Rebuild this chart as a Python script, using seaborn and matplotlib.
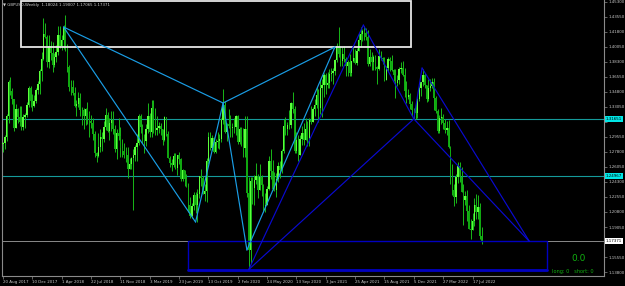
import matplotlib
matplotlib.use("Agg")
import numpy as np
import pandas as pd
import matplotlib.pyplot as plt
import matplotlib.transforms as mtransforms
from matplotlib.patches import Rectangle
import seaborn as sns

# ---------------- data (GBPUSD weekly, week starting 20 Aug 2017) ----------------
first_open = 1.2875
closes = [
    1.2880, 1.2950, 1.3200, 1.3590, 1.3495, 1.3395, 1.3065, 1.3285, 1.3190, 1.3135,
    1.3075, 1.3190, 1.3215, 1.3330, 1.3520, 1.3375, 1.3320, 1.3375, 1.3500, 1.3570,
    1.3725, 1.3860, 1.4150, 1.4125, 1.3825, 1.4020, 1.3935, 1.3795, 1.3890, 1.3950,
    1.4140, 1.4010, 1.4080, 1.4240, 1.4010, 1.3775, 1.3535, 1.3540, 1.3465, 1.3315,
    1.3345, 1.3410, 1.3265, 1.3265, 1.3205, 1.3280, 1.3240, 1.3145, 1.3115, 1.2995,
    1.2765, 1.2730, 1.2840, 1.2960, 1.2930, 1.3070, 1.3210, 1.3030, 1.3120, 1.3150,
    1.3045, 1.2815, 1.3000, 1.2970, 1.2830, 1.2795, 1.2750, 1.2740, 1.2585, 1.2640,
    1.2715, 1.2745, 1.2840, 1.2880, 1.3195, 1.3075, 1.2940, 1.2905, 1.3045, 1.3195,
    1.3010, 1.3295, 1.3210, 1.3035, 1.3065, 1.3085, 1.3045, 1.2915, 1.3190, 1.2995,
    1.2715, 1.2655, 1.2625, 1.2735, 1.2590, 1.2740, 1.2695, 1.2465, 1.2575, 1.2470,
    1.2375, 1.2160, 1.2030, 1.2150, 1.2275, 1.2160, 1.2290, 1.2495, 1.2475, 1.2290,
    1.2330, 1.2670, 1.2960, 1.2830, 1.2940, 1.2780, 1.2895, 1.2905, 1.2935, 1.3150,
    1.3330, 1.3015, 1.3110, 1.3080, 1.3060, 1.3070, 1.3075, 1.3200, 1.2895, 1.3045,
    1.2960, 1.2825, 1.3050, 1.2300, 1.1640, 1.2445, 1.2365, 1.2450, 1.2505, 1.2335,
    1.2490, 1.2400, 1.2135, 1.2165, 1.2345, 1.2670, 1.2560, 1.2350, 1.2335, 1.2470,
    1.2615, 1.2565, 1.2790, 1.3085, 1.3050, 1.3090, 1.3090, 1.3350, 1.3280, 1.2790,
    1.2915, 1.2745, 1.2935, 1.3000, 1.2915, 1.3045, 1.2945, 1.3150, 1.3130, 1.3280,
    1.3325, 1.3440, 1.3290, 1.3520, 1.3555, 1.3675, 1.3565, 1.3580, 1.3685, 1.3705,
    1.3725, 1.3850, 1.4010, 1.3925, 1.3835, 1.3925, 1.3865, 1.3785, 1.3830, 1.3700,
    1.3840, 1.3875, 1.3815, 1.3960, 1.4085, 1.4150, 1.4185, 1.4165, 1.4115, 1.3805,
    1.3885, 1.3825, 1.3890, 1.3765, 1.3745, 1.3900, 1.3880, 1.3865, 1.3620, 1.3760,
    1.3865, 1.3835, 1.3735, 1.3675, 1.3585, 1.3615, 1.3745, 1.3755, 1.3680, 1.3495,
    1.3420, 1.3440, 1.3335, 1.3270, 1.3265, 1.3235, 1.3395, 1.3530, 1.3590, 1.3675,
    1.3555, 1.3395, 1.3530, 1.3550, 1.3590, 1.3405, 1.3260, 1.3030, 1.3180, 1.3185,
    1.3115, 1.3035, 1.3060, 1.2835, 1.2570, 1.2335, 1.2255, 1.2490, 1.2620, 1.2490,
    1.2310, 1.2220, 1.2265, 1.2095, 1.1885, 1.1870, 1.1980, 1.2165, 1.2075, 1.2140,
    1.18024, 1.17371,
]
highs = [
    1.2895, 1.2980, 1.3224, 1.3616, 1.3657, 1.3530, 1.3380, 1.3337, 1.3293, 1.3320,
    1.3321, 1.3225, 1.3234, 1.3357, 1.3549, 1.3550, 1.3454, 1.3445, 1.3520, 1.3612,
    1.3743, 1.3944, 1.4345, 1.4280, 1.4149, 1.4145, 1.4071, 1.4066, 1.3930, 1.4028,
    1.4244, 1.4245, 1.4143, 1.4265, 1.4377, 1.4034, 1.3794, 1.3617, 1.3617, 1.3535,
    1.3390, 1.3474, 1.3471, 1.3310, 1.3291, 1.3290, 1.3363, 1.3259, 1.3216, 1.3172,
    1.3026, 1.2775, 1.2999, 1.3043, 1.3009, 1.3143, 1.3298, 1.3245, 1.3175, 1.3258,
    1.3257, 1.3091, 1.3042, 1.3175, 1.3073, 1.2933, 1.2886, 1.2840, 1.2843, 1.2707,
    1.2724, 1.2815, 1.2866, 1.2990, 1.3217, 1.3218, 1.3110, 1.2987, 1.3110, 1.3350,
    1.3229, 1.3381, 1.3381, 1.3290, 1.3196, 1.3130, 1.3120, 1.3035, 1.3200, 1.3176,
    1.3023, 1.2736, 1.2693, 1.2764, 1.2764, 1.2749, 1.2783, 1.2710, 1.2580, 1.2575,
    1.2521, 1.2420, 1.2250, 1.2185, 1.2310, 1.2310, 1.2350, 1.2500, 1.2582, 1.2500,
    1.2411, 1.2708, 1.3013, 1.3013, 1.2976, 1.2952, 1.2935, 1.3012, 1.2985, 1.3178,
    1.3514, 1.3380, 1.3117, 1.3285, 1.3214, 1.3119, 1.3173, 1.3209, 1.3214, 1.3070,
    1.3070, 1.3059, 1.3200, 1.3200, 1.2485, 1.2486, 1.2486, 1.2513, 1.2648, 1.2520,
    1.2643, 1.2515, 1.2410, 1.2297, 1.2384, 1.2728, 1.2813, 1.2688, 1.2543, 1.2534,
    1.2668, 1.2670, 1.2814, 1.3170, 1.3185, 1.3133, 1.3267, 1.3365, 1.3482, 1.3315,
    1.3007, 1.2978, 1.2977, 1.3083, 1.3118, 1.3177, 1.3137, 1.3175, 1.3313, 1.3309,
    1.3399, 1.3539, 1.3512, 1.3624, 1.3625, 1.3703, 1.3705, 1.3711, 1.3746, 1.3758,
    1.3759, 1.3866, 1.4050, 1.4241, 1.4017, 1.4005, 1.4017, 1.3886, 1.3850, 1.3919,
    1.3839, 1.4009, 1.3975, 1.3991, 1.4166, 1.4234, 1.4219, 1.4250, 1.4222, 1.4200,
    1.3975, 1.3945, 1.3908, 1.3908, 1.3785, 1.3984, 1.3958, 1.3890, 1.3892, 1.3781,
    1.3891, 1.3892, 1.3913, 1.3750, 1.3750, 1.3674, 1.3774, 1.3834, 1.3835, 1.3762,
    1.3607, 1.3515, 1.3470, 1.3374, 1.3294, 1.3374, 1.3437, 1.3549, 1.3599, 1.3749,
    1.3695, 1.3520, 1.3628, 1.3627, 1.3644, 1.3645, 1.3438, 1.3278, 1.3213, 1.3298,
    1.3222, 1.3167, 1.3145, 1.3147, 1.2845, 1.2638, 1.2406, 1.2524, 1.2666, 1.2667,
    1.2600, 1.2406, 1.2323, 1.2333, 1.2166, 1.2000, 1.2065, 1.2246, 1.2293, 1.2276,
    1.2188, 1.19007,
]
lows = [
    1.2774, 1.2811, 1.2906, 1.3115, 1.3450, 1.3338, 1.3027, 1.3088, 1.3116, 1.3083,
    1.3038, 1.3034, 1.3063, 1.3182, 1.3300, 1.3300, 1.3256, 1.3300, 1.3349, 1.3460,
    1.3459, 1.3612, 1.3853, 1.4110, 1.3765, 1.3764, 1.3855, 1.3712, 1.3765, 1.3828,
    1.3912, 1.3988, 1.3965, 1.3979, 1.3960, 1.3713, 1.3488, 1.3450, 1.3450, 1.3305,
    1.3204, 1.3300, 1.3203, 1.3100, 1.3049, 1.3100, 1.3101, 1.2957, 1.3065, 1.2918,
    1.2724, 1.2662, 1.2724, 1.2785, 1.2786, 1.2897, 1.3037, 1.3007, 1.2922, 1.3025,
    1.2990, 1.2780, 1.2696, 1.2920, 1.2724, 1.2723, 1.2705, 1.2659, 1.2477, 1.2582,
    1.2585, 1.2105, 1.2670, 1.2670, 1.2866, 1.3000, 1.2886, 1.2773, 1.2854, 1.3003,
    1.2960, 1.2960, 1.3004, 1.2977, 1.2978, 1.3001, 1.2980, 1.2866, 1.2904, 1.2968,
    1.2710, 1.2606, 1.2559, 1.2600, 1.2580, 1.2506, 1.2637, 1.2440, 1.2439, 1.2380,
    1.2382, 1.2080, 1.2015, 1.2015, 1.2101, 1.2069, 1.1959, 1.2240, 1.2380, 1.2285,
    1.2206, 1.2196, 1.2640, 1.2800, 1.2806, 1.2768, 1.2769, 1.2825, 1.2820, 1.2892,
    1.3105, 1.2999, 1.2904, 1.3057, 1.2958, 1.2960, 1.3003, 1.2975, 1.2870, 1.2873,
    1.2849, 1.2725, 1.2725, 1.2253, 1.1409, 1.1480, 1.2170, 1.2165, 1.2404, 1.2247,
    1.2335, 1.2265, 1.2075, 1.2076, 1.2163, 1.2339, 1.2470, 1.2336, 1.2330, 1.2252,
    1.2427, 1.2481, 1.2533, 1.2773, 1.2980, 1.2982, 1.3051, 1.3057, 1.3236, 1.2763,
    1.2763, 1.2676, 1.2745, 1.2863, 1.2863, 1.2915, 1.2854, 1.2854, 1.3105, 1.3142,
    1.3196, 1.3287, 1.3134, 1.3226, 1.3188, 1.3425, 1.3452, 1.3520, 1.3520, 1.3609,
    1.3567, 1.3675, 1.3828, 1.3888, 1.3778, 1.3780, 1.3830, 1.3670, 1.3669, 1.3669,
    1.3670, 1.3825, 1.3804, 1.3799, 1.3991, 1.4006, 1.4075, 1.4083, 1.4087, 1.3787,
    1.3787, 1.3731, 1.3732, 1.3741, 1.3572, 1.3739, 1.3858, 1.3802, 1.3602, 1.3620,
    1.3727, 1.3726, 1.3728, 1.3609, 1.3412, 1.3544, 1.3571, 1.3706, 1.3670, 1.3425,
    1.3353, 1.3400, 1.3279, 1.3194, 1.3160, 1.3162, 1.3172, 1.3370, 1.3427, 1.3554,
    1.3521, 1.3358, 1.3373, 1.3488, 1.3524, 1.3273, 1.3229, 1.3000, 1.3001, 1.3106,
    1.3051, 1.3000, 1.2973, 1.2827, 1.2411, 1.2276, 1.2155, 1.2190, 1.2422, 1.2434,
    1.2315, 1.1934, 1.2160, 1.1975, 1.1876, 1.1760, 1.1888, 1.1914, 1.2004, 1.2003,
    1.1770, 1.17065,
]

date_labels = ["20 Aug 2017", "10 Dec 2017", "1 Apr 2018", "22 Jul 2018", "11 Nov 2018",
               "3 Mar 2019", "23 Jun 2019", "13 Oct 2019", "2 Feb 2020", "24 May 2020",
               "13 Sep 2020", "3 Jan 2021", "25 Apr 2021", "15 Aug 2021", "5 Dec 2021",
               "27 Mar 2022", "17 Jul 2022"]
date_label_bars = [0, 16, 32, 48, 64, 80, 96, 112, 128, 144, 160, 176, 192, 208, 224, 240, 256]

price_ticks = [1.45300, 1.43550, 1.41800, 1.40050, 1.38300, 1.36550, 1.34800, 1.33050,
               1.31300, 1.29550, 1.27800, 1.26050, 1.24300, 1.22550, 1.20800, 1.19050,
               1.17300, 1.15550, 1.13800]
# labels hidden behind the price boxes in the reference
hidden_tick_labels = [1.31300, 1.17300]

level_lines = [1.31651, 1.24967]
bid_price = 1.17371
header_text = "\u25BC GBPUSD,Weekly  1.18024 1.19007 1.17065 1.17371"

# pattern points (bar, price)
light_pts = {"A": (33, 1.4237), "B": (120, 1.3351), "C": (181, 1.4004),
             "D": (105, 1.1963), "E": (133, 1.1637)}
light_segs = [("A", "B"), ("A", "D"), ("D", "B"), ("B", "E"), ("E", "C"), ("B", "C")]
dark_pts = {"F": (134, 1.1409), "H": (196.5, 1.4260), "I": (224, 1.3165),
            "J": (228.5, 1.3759), "K": (287, 1.17371)}
dark_segs = [("F", "H"), ("F", "I"), ("H", "I"), ("I", "J"), ("J", "K"), ("I", "K")]

white_box = (10, 222.5, 1.4004, 1.4540)     # bar0, bar1, low, high
blue_box = (101, 296.6, 1.1409, 1.17371)

# ---------------- style ----------------
sns.set_theme(style="dark", rc={"axes.facecolor": "black", "figure.facecolor": "black",
                                "axes.grid": False})
plt.rcParams["font.family"] = ["DejaVu Sans"]

W, H = 625, 286
fig = plt.figure(figsize=(W / 100, H / 100), dpi=100)
ax = fig.add_axes([2 / W, 10 / H, 602 / W, 276 / H])
ax.set_facecolor("black")

n = len(closes)
opens = [first_open] + closes[:-1]
df = pd.DataFrame({"bar": np.arange(n), "open": opens, "close": closes,
                   "high": highs, "low": lows})
df["high"] = df[["high", "open", "close"]].max(axis=1)
df["low"] = df[["low", "open", "close"]].min(axis=1)
up = df["close"] >= df["open"]
col_up, col_dn, col_wick = "#5cff3c", "#10a810", "#18b818"

ax.vlines(df["bar"], df["low"], df["high"], colors=col_wick, lw=0.7, zorder=3)
body_lo = df[["open", "close"]].min(axis=1)
body_h = (df["close"] - df["open"]).abs().clip(lower=0.0004)
ax.bar(df["bar"], body_h, bottom=body_lo, width=0.75,
       color=np.where(up, col_up, col_dn), linewidth=0, zorder=4)

# horizontal levels
for lv in level_lines:
    ax.axhline(lv, color="#159a9a", lw=0.8, zorder=2)
ax.axhline(bid_price, color="#8a8a8a", lw=0.7, zorder=2)

# rectangles
ax.add_patch(Rectangle((white_box[0], white_box[2]), white_box[1] - white_box[0],
                       white_box[3] - white_box[2], fill=False, ec="#e6e6e6", lw=1.3, zorder=5))
ax.add_patch(Rectangle((blue_box[0], blue_box[2]), blue_box[1] - blue_box[0],
                       blue_box[3] - blue_box[2], fill=False, ec="#0000c0", lw=1.0, zorder=5))
ax.plot([blue_box[0], blue_box[1]], [blue_box[2], blue_box[2]], color="#0000c0", lw=2.0, zorder=5)

# pattern lines via seaborn
def seg_frame(pts, segs):
    rows = []
    for k, (a, b) in enumerate(segs):
        for p in (a, b):
            rows.append({"seg": k, "bar": pts[p][0], "price": pts[p][1]})
    return pd.DataFrame(rows)

sns.lineplot(data=seg_frame(light_pts, light_segs), x="bar", y="price", units="seg",
             estimator=None, sort=False, color="#1a9ee6", lw=0.85, ax=ax, zorder=6)
sns.lineplot(data=seg_frame(dark_pts, dark_segs), x="bar", y="price", units="seg",
             estimator=None, sort=False, color="#0a0ad0", lw=0.85, ax=ax, zorder=6)

# limits
px_per_bar = 1.834
xmin = -1 / px_per_bar
ax.set_xlim(xmin, xmin + 602 / px_per_bar)
ax.set_ylim(1.13337, 1.45519)
ax.set_xlabel("")
ax.set_ylabel("")

# spines
for s in ["left", "right", "bottom"]:
    ax.spines[s].set_color("#8a8a8a")
    ax.spines[s].set_linewidth(0.8)
ax.spines["top"].set_visible(False)

# ticks
ax.yaxis.tick_right()
ax.set_yticks(price_ticks)
ax.set_yticklabels(["" if v in hidden_tick_labels else f"{v:.5f}" for v in price_ticks])
ax.tick_params(axis="y", colors="#8a8a8a", labelcolor="#c8c8c8", labelsize=2.9,
               length=2, width=0.5, pad=1.2, right=True, left=False)
ax.set_xticks(date_label_bars)
ax.set_xticklabels(date_labels)
ax.tick_params(axis="x", colors="#8a8a8a", labelcolor="#c8c8c8", labelsize=2.9,
               length=2, width=0.5, pad=1.0, bottom=True)
for lbl in ax.get_xticklabels():
    lbl.set_ha("left")

# price boxes on the right axis
blend = mtransforms.blended_transform_factory(ax.transAxes, ax.transData)
for lv in level_lines:
    ax.text(1.003, lv, f"{lv:.5f}", transform=blend, fontsize=2.9, color="black",
            va="center", ha="left", clip_on=False, zorder=10,
            bbox=dict(boxstyle="square,pad=0.25", fc="#00e6e6", ec="none"))
ax.text(1.003, bid_price, f"{bid_price:.5f}", transform=blend, fontsize=2.9, color="black",
        va="center", ha="left", clip_on=False, zorder=10,
        bbox=dict(boxstyle="square,pad=0.25", fc="white", ec="none"))

# info texts
ax.text(314, 1.1532, "0.0", fontsize=6.5, color="#10b010", ha="center", va="center", zorder=10)
ax.text(310.5, 1.1392, "long: 0   short: 0", fontsize=3.6, color="#10b010",
        ha="center", va="center", zorder=10)
fig.text(3 / W, 1 - 5 / H, header_text, fontsize=2.8, color="#d0d0d0", ha="left", va="center")

fig.savefig("out.png", dpi=100, facecolor="black")
